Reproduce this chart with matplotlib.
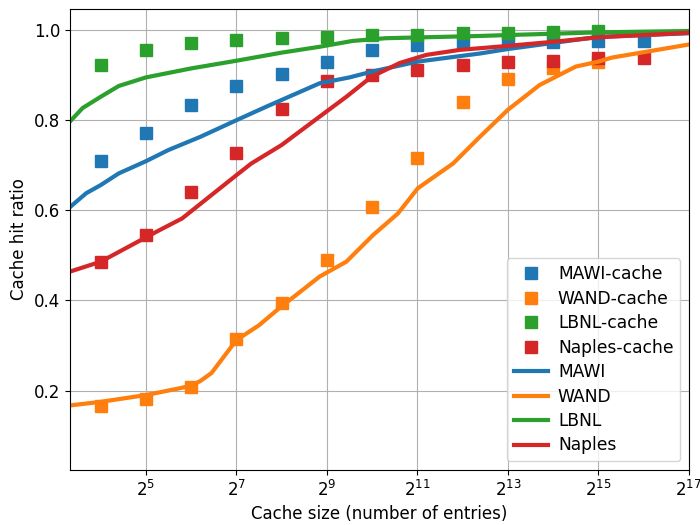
import numpy as np
import matplotlib
matplotlib.use("Agg")
import matplotlib.pyplot as plt

plt.rcParams['font.size'] = 12

# cache sizes are stored as log2 exponents
CACHE_EXP = [4, 5, 6, 7, 8, 9, 10, 11, 12, 13, 14, 15, 16]

mawi_cache = [0.709, 0.772, 0.834, 0.876, 0.902, 0.930, 0.956, 0.968, 0.971, 0.978, 0.974, 0.976, 0.976]
wand_cache = [0.166, 0.181, 0.209, 0.314, 0.394, 0.490, 0.607, 0.716, 0.841, 0.892, 0.915, 0.930]
lbnl_cache = [0.922, 0.956, 0.972, 0.978, 0.982, 0.985, 0.989, 0.990, 0.993, 0.993, 0.995, 0.998]
naples_cache = [0.486, 0.545, 0.641, 0.727, 0.825, 0.887, 0.900, 0.911, 0.922, 0.930, 0.932, 0.937, 0.937]

# model curves
mawi_exp = [3.32, 3.68, 4.0, 4.4, 5.0, 5.5, 6.2, 7.0, 7.66, 8.5, 8.84, 9.5, 10.0, 11.0, 12.38, 13.0, 15.0, 17.0]
mawi_line = [0.607, 0.638, 0.656, 0.682, 0.709, 0.734, 0.763, 0.800, 0.830, 0.867, 0.882, 0.895, 0.908, 0.930, 0.948, 0.958, 0.985, 0.993]

wand_exp = [3.32, 4.0, 5.0, 5.74, 6.0, 6.2, 6.45, 7.0, 7.5, 7.95, 8.84, 9.43, 10.02, 10.57, 11.01, 11.79, 12.38, 13.0, 13.7, 14.5, 15.0, 15.3, 17.0]
wand_line = [0.167, 0.175, 0.190, 0.205, 0.211, 0.221, 0.239, 0.312, 0.345, 0.383, 0.453, 0.486, 0.545, 0.593, 0.649, 0.704, 0.763, 0.823, 0.878, 0.919, 0.930, 0.939, 0.968]

lbnl_exp = [3.32, 3.6, 4.0, 4.4, 5.0, 6.0, 7.0, 8.0, 8.84, 9.57, 10.3, 12.38, 13.0, 15.0, 17.0]
lbnl_line = [0.797, 0.827, 0.852, 0.876, 0.895, 0.915, 0.932, 0.950, 0.963, 0.976, 0.982, 0.987, 0.989, 0.995, 0.998]

naples_exp = [3.32, 4.0, 5.0, 5.3, 5.8, 6.4, 7.0, 7.33, 8.0, 8.84, 9.43, 9.98, 10.61, 11.2, 11.93, 13.0, 14.0, 15.0, 17.0]
naples_line = [0.464, 0.486, 0.540, 0.556, 0.582, 0.630, 0.678, 0.704, 0.745, 0.808, 0.852, 0.896, 0.927, 0.945, 0.956, 0.965, 0.974, 0.984, 0.994]

fig = plt.figure(figsize=(7, 5.25), dpi=100)
ax = fig.add_axes([0.1, 0.105, 0.884, 0.878])

def sizes(exps):
    return [2.0 ** e for e in exps]

ax.plot(sizes(CACHE_EXP[:len(mawi_cache)]), mawi_cache, 's', color='tab:blue', ms=8.5, label='MAWI-cache')
ax.plot(sizes(CACHE_EXP[:len(wand_cache)]), wand_cache, 's', color='tab:orange', ms=8.5, label='WAND-cache')
ax.plot(sizes(CACHE_EXP[:len(lbnl_cache)]), lbnl_cache, 's', color='tab:green', ms=8.5, label='LBNL-cache')
ax.plot(sizes(CACHE_EXP[:len(naples_cache)]), naples_cache, 's', color='tab:red', ms=8.5, label='Naples-cache')

ax.plot(sizes(mawi_exp), mawi_line, '-', color='tab:blue', lw=3, label='MAWI')
ax.plot(sizes(wand_exp), wand_line, '-', color='tab:orange', lw=3, label='WAND')
ax.plot(sizes(lbnl_exp), lbnl_line, '-', color='tab:green', lw=3, label='LBNL')
ax.plot(sizes(naples_exp), naples_line, '-', color='tab:red', lw=3, label='Naples')

ax.set_xscale('log', base=2)
ax.set_xlim(10, 2 ** 17)
ax.set_ylim(0.024, 1.047)
xt = [5, 7, 9, 11, 13, 15, 17]
ax.set_xticks([2 ** e for e in xt])
ax.set_xticklabels([r'$2^{%d}$' % e for e in xt])
ax.xaxis.set_minor_locator(matplotlib.ticker.NullLocator())
ax.set_yticks([0.2, 0.4, 0.6, 0.8, 1.0])

ax.grid(True)
ax.set_xlabel('Cache size (number of entries)')
ax.set_ylabel('Cache hit ratio')
ax.legend(loc='lower right', fontsize=12.3, labelspacing=0.38, handletextpad=0.6)

fig.savefig('out.png', dpi=100)
